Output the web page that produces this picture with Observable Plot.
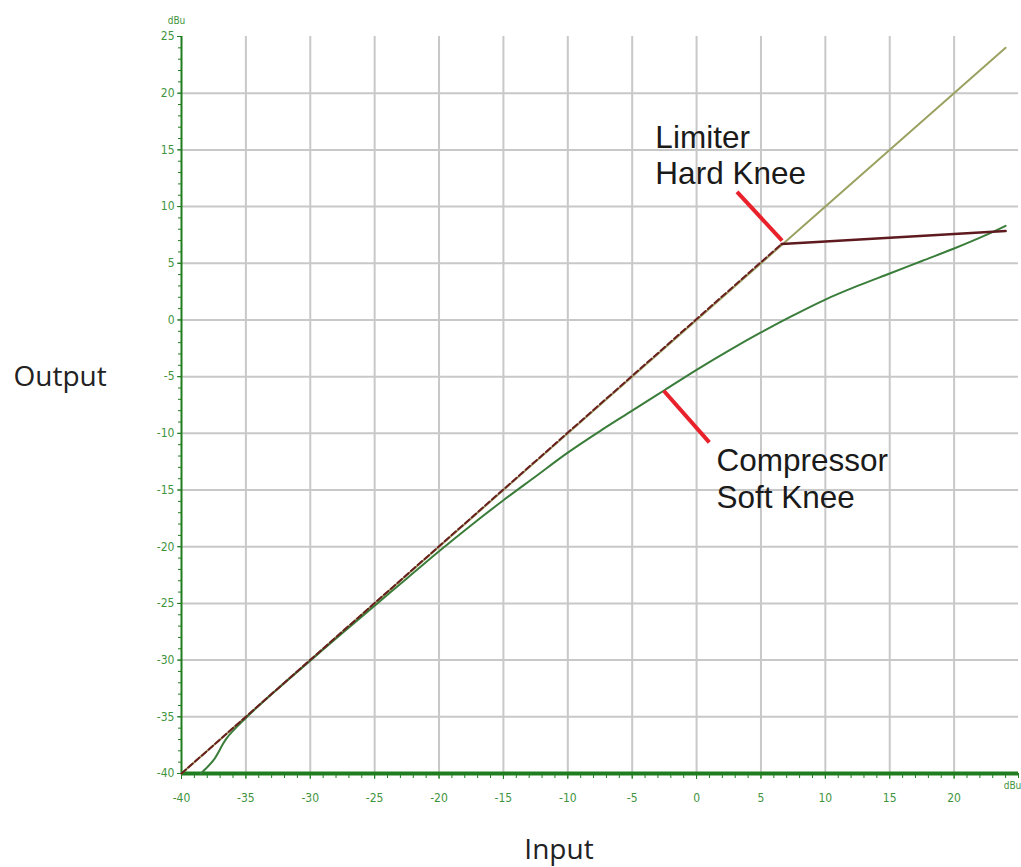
<!DOCTYPE html>
<html>
<head>
<meta charset="utf-8">
<script src="https://cdn.jsdelivr.net/npm/d3@7"></script>
<script src="https://cdn.jsdelivr.net/npm/@observablehq/plot@0.6"></script>
<style>
  html, body { margin: 0; padding: 0; background: #fff; }
  #chart svg { display: block; }
</style>
</head>
<body>
<div id="chart"></div>
<script>
// ---- data ----
const xTicks = [-40, -35, -30, -25, -20, -15, -10, -5, 0, 5, 10, 15, 20];
const yTicks = [-40, -35, -30, -25, -20, -15, -10, -5, 0, 5, 10, 15, 20, 25];
const gridXValues = [-35, -30, -25, -20, -15, -10, -5, 0, 5, 10, 15, 20];
const gridYValues = [-35, -30, -25, -20, -15, -10, -5, 0, 5, 10, 15, 20];
const minorX = d3.range(-40, 26, 1);
const minorY = d3.range(-40, 26, 1);

// unity (reference) line
const unityX = [-40, 24];
const unityY = [-40, 24];

// limiter, hard knee
const limiterX = [-40, 6.6, 9, 12, 15, 18, 21, 24];
const limiterY = [-40, 6.7, 6.85, 7.05, 7.25, 7.45, 7.65, 7.85];

// compressor, soft knee
const compX = [-38.5, -37.5, -36.5, -35, -32.5, -30, -27.5, -25, -22.5, -20, -17.5, -15, -12.5, -10, -7.5, -5, -2.5, 0, 2.5, 5, 7.5, 10, 12.5, 15, 17.5, 20, 22.5, 24];
const compY = [-40, -38.8, -36.9, -35.1, -32.5, -30.05, -27.6, -25.2, -22.8, -20.4, -18.1, -15.9, -13.8, -11.7, -9.8, -8.0, -6.2, -4.4, -2.7, -1.1, 0.4, 1.8, 3.0, 4.1, 5.2, 6.3, 7.5, 8.3];

// annotations
const annText = ["Limiter\nHard Knee", "Compressor\nSoft Knee"];
const annX = [-3.2, 1.54];
const annY = [11.95, -16.6];
const pointerX1 = [3.14, -2.55];
const pointerY1 = [11.3, -6.24];
const pointerX2 = [6.64, 0.99];
const pointerY2 = [7.0, -10.8];

const axisLabelX = "Input";
const axisLabelY = "Output";
const unitLabel = "dBu";

// ---- build tables ----
const unity = unityX.map((x, i) => ({x, y: unityY[i]}));
const limiter = limiterX.map((x, i) => ({x, y: limiterY[i]}));
const limiterDiag = limiter.slice(0, 2);
const limiterFlat = limiter.slice(1);
const comp = compX.map((x, i) => ({x, y: compY[i]}));
const ann = annText.map((t, i) => ({t, x: annX[i], y: annY[i]}));
const pointers = pointerX1.map((x1, i) => ({x1, y1: pointerY1[i], x2: pointerX2[i], y2: pointerY2[i]}));

const axisGreen = "#1f7d1f";
const labelGreen = "#3f9440";
const gridGray = "#c8c8c8";
const tickFont = "'DejaVu Sans Condensed', 'DejaVu Sans', sans-serif";
const fmt = d => String(d);

const chart = Plot.plot({
  width: 1021,
  height: 867,
  marginLeft: 181,
  marginRight: 3,
  marginTop: 36,
  marginBottom: 94,
  style: {background: "#fff", overflow: "visible"},
  x: {domain: [-40, 25]},
  y: {domain: [-40, 25]},
  marks: [
    Plot.gridX(gridXValues, {stroke: gridGray, strokeOpacity: 1, strokeWidth: 2}),
    Plot.gridY(gridYValues, {stroke: gridGray, strokeOpacity: 1, strokeWidth: 2}),
    // minor ticks
    Plot.axisY(minorY, {tickSize: 3, text: null, stroke: axisGreen, label: null}),
    Plot.axisX(minorX, {tickSize: 5, text: null, stroke: axisGreen, label: null}),
    // major ticks + labels
    Plot.axisY(yTicks, {tickSize: 4, tickPadding: 3, tickFormat: fmt, stroke: axisGreen, fill: labelGreen, fontSize: 12, fontFamily: tickFont, label: null}),
    Plot.axisX(xTicks, {tickSize: 6, tickPadding: 14, tickFormat: fmt, stroke: axisGreen, fill: labelGreen, fontSize: 12, fontFamily: tickFont, label: null}),
    // axis lines
    Plot.ruleX([-40], {stroke: axisGreen, strokeWidth: 2}),
    Plot.ruleY([-40], {stroke: axisGreen, strokeWidth: 4}),
    // curves
    Plot.line(unity, {x: "x", y: "y", stroke: "#9ba160", strokeWidth: 2}),
    Plot.line(comp, {x: "x", y: "y", stroke: "#3a7d3a", strokeWidth: 2, curve: "catmull-rom"}),
    Plot.line(limiterDiag, {x: "x", y: "y", stroke: "#6a1f1f", strokeWidth: 2, strokeDasharray: "6,3"}),
    Plot.line(limiterFlat, {x: "x", y: "y", stroke: "#5e1a1e", strokeWidth: 2.5}),
    // annotations
    Plot.link(pointers, {x1: "x1", y1: "y1", x2: "x2", y2: "y2", stroke: "#e8212b", strokeWidth: 4}),
    Plot.text(ann, {x: "x", y: "y", text: "t", textAnchor: "start", lineAnchor: "bottom", lineHeight: 1.17, fontSize: 31.5, fontFamily: "'Liberation Sans', Arial, sans-serif", fill: "#1a1a1a"}),
    // axis titles and units
    Plot.text([axisLabelY], {frameAnchor: "left", dx: -168, dy: -28, textAnchor: "start", fontSize: 28, fontFamily: "'Open Sans', sans-serif", fill: "#222"}),
    Plot.text([axisLabelX], {frameAnchor: "bottom", dx: -41, dy: 85, textAnchor: "middle", lineAnchor: "bottom", fontSize: 28, fontFamily: "'Open Sans', sans-serif", fill: "#222"}),
    Plot.text([unitLabel], {frameAnchor: "top-left", dx: -5, dy: -20, textAnchor: "middle", fontSize: 10, fontFamily: tickFont, fill: labelGreen}),
    Plot.text([unitLabel], {frameAnchor: "bottom-right", dx: -6, dy: 15, textAnchor: "middle", fontSize: 10, fontFamily: tickFont, fill: labelGreen})
  ]
});
document.getElementById("chart").appendChild(chart);
</script>
</body>
</html>
